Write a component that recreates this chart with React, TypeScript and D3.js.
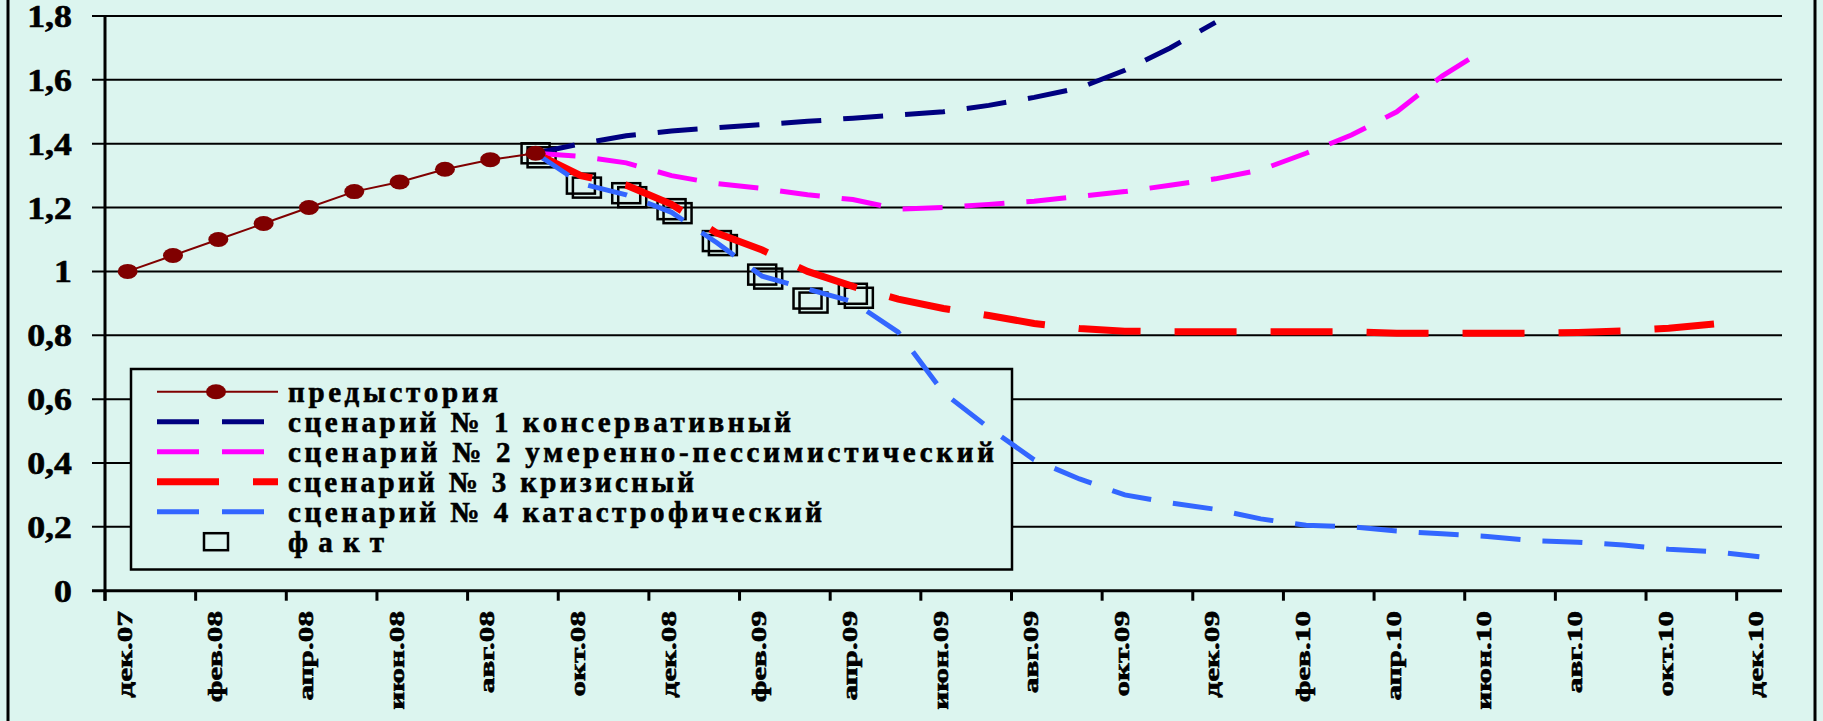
import * as d3 from 'd3';

// monthly categories, Dec 2007 - Dec 2010
const months = [
  'дек.07', 'янв.08', 'фев.08', 'мар.08', 'апр.08', 'май.08', 'июн.08', 'июл.08', 'авг.08', 'сен.08',
  'окт.08', 'ноя.08', 'дек.08', 'янв.09', 'фев.09', 'мар.09', 'апр.09', 'май.09', 'июн.09', 'июл.09',
  'авг.09', 'сен.09', 'окт.09', 'ноя.09', 'дек.09', 'янв.10', 'фев.10', 'мар.10', 'апр.10', 'май.10',
  'июн.10', 'июл.10', 'авг.10', 'сен.10', 'окт.10', 'ноя.10', 'дек.10'
];

const yTicks = [0, 0.2, 0.4, 0.6, 0.8, 1, 1.2, 1.4, 1.6, 1.8];

// history starts at дек.07, forecasts and facts start at сен.08
const forecastStart = 'сен.08';

const history = [1.0, 1.05, 1.1, 1.15, 1.2, 1.25, 1.28, 1.32, 1.35, 1.37];

const scenario1 = [1.37, 1.4, 1.425, 1.44, 1.45, 1.46, 1.47, 1.48, 1.49, 1.5, 1.52, 1.545, 1.575, 1.63, 1.7, 1.78];

const scenario2 = [1.37, 1.36, 1.34, 1.3, 1.275, 1.26, 1.24, 1.225, 1.195, 1.2, 1.21, 1.22, 1.235, 1.25, 1.27, 1.29,
  1.318, 1.37, 1.427, 1.5, 1.612, 1.7];

const scenario3 = [1.37, 1.3, 1.27, 1.21, 1.12, 1.067, 1.0, 0.953, 0.913, 0.884, 0.862, 0.837, 0.821, 0.813, 0.811,
  0.811, 0.811, 0.811, 0.811, 0.806, 0.806, 0.806, 0.806, 0.809, 0.814, 0.822, 0.835];

const scenario4 = [1.37, 1.275, 1.24, 1.185, 1.09, 0.985, 0.945, 0.905, 0.81, 0.62, 0.51, 0.41, 0.35, 0.3, 0.275,
  0.255, 0.225, 0.205, 0.2, 0.187, 0.178, 0.17, 0.157, 0.152, 0.143, 0.13, 0.122, 0.106];

const facts = [1.37, 1.275, 1.245, 1.195, 1.095, 0.99, 0.915, 0.93];

const legendLabels = [
  'предыстория',
  'сценарий № 1 консервативный',
  'сценарий № 2 умеренно-пессимистический',
  'сценарий № 3 кризисный',
  'сценарий № 4 катастрофический',
  'факт'
];

const BG = '#dcf5ef';
const FONT = '"Liberation Serif", "Times New Roman", serif';

export default function App() {
  const width = 1823;
  const height = 721;
  const plotLeft = 105;
  const plotRight = 1782;

  const x = d3.scaleBand<string>().domain(months).range([plotLeft, plotRight]).padding(0);
  const y = d3.scaleLinear().domain([0, 1.8]).range([590.7, 16]);
  const cx = (m: string) => (x(m) ?? 0) + x.bandwidth() / 2;

  const startIdx = months.indexOf(forecastStart);
  const toPoints = (vals: number[], from: number) =>
    vals.map((v, k) => [cx(months[from + k]), y(v)] as [number, number]);

  const line = d3.line();

  const scenarios = [
    { data: scenario1, color: '#000080', width: 5, dash: '40,22' },
    { data: scenario2, color: '#ff00ff', width: 5, dash: '40,22' },
    { data: scenario3, color: '#ff0000', width: 7, dash: '62,34' },
    { data: scenario4, color: '#3366ff', width: 5, dash: '40,22' }
  ];

  const historyPts = toPoints(history, 0);
  const factPts = toPoints(facts, startIdx);

  // legend geometry
  const lg = { x0: 131, y0: 369, x1: 1012, y1: 569.5 };
  const legendEnds = [498, 791, 994, 694, 822, 384];
  const textX = 288;
  const rowBase = (k: number) => 401.7 + 30 * k;

  // heavier text, like the bold Times of the original
  const textStyle = { fontFamily: FONT, fontWeight: 'bold' as const, fill: '#000', stroke: '#000', strokeWidth: 0.6 };

  return (
    <div>
      <style>{'body{margin:0}'}</style>
      <svg width={width} height={height} style={{ display: 'block', background: BG }}>
        <rect x={0} y={0} width={width} height={height} fill={BG} />
        {/* outer frame sides */}
        <line x1={8} x2={8} y1={0} y2={height} stroke="#000" strokeWidth={3} />
        <line x1={1815} x2={1815} y1={0} y2={height} stroke="#000" strokeWidth={3} />

        {/* gridlines and y ticks */}
        {yTicks.map(t => (
          <g key={t}>
            <line x1={92} x2={plotRight} y1={y(t)} y2={y(t)}
              stroke="#000" strokeWidth={t === 0 ? 3 : 2} />
            <text
              transform={`translate(72,${y(t) + 11}) scale(1.12,1)`}
              textAnchor="end"
              fontSize={32}
              style={textStyle}
            >
              {String(t).replace('.', ',')}
            </text>
          </g>
        ))}
        {/* y axis */}
        <line x1={plotLeft} x2={plotLeft} y1={y(1.8)} y2={y(0) + 10} stroke="#000" strokeWidth={3} />

        {/* x ticks and labels */}
        {months.map((m, i) => i % 2 === 0 ? (
          <g key={m}>
            <line x1={x(m)} x2={x(m)} y1={y(0)} y2={y(0) + 10} stroke="#000" strokeWidth={3} />
            <text
              transform={`translate(${cx(m) + 4},611) rotate(-90) scale(1.42,1)`}
              textAnchor="end"
              fontSize={22}
              style={textStyle}
            >
              {m}
            </text>
          </g>
        ) : null)}

        {/* legend box (hides gridlines behind it) */}
        <rect x={lg.x0} y={lg.y0} width={lg.x1 - lg.x0} height={lg.y1 - lg.y0}
          fill={BG} stroke="#000" strokeWidth={2.5} />
        {legendLabels.map((label, k) => {
          const by = rowBase(k);
          const ly = by - 10;
          let sym = null;
          if (k === 0) {
            sym = (
              <g>
                <line x1={157} x2={278} y1={ly} y2={ly} stroke="#800000" strokeWidth={2} />
                <ellipse cx={216} cy={ly} rx={10} ry={7.5} fill="#800000" />
              </g>
            );
          } else if (k <= 4) {
            const s = scenarios[k - 1];
            sym = (
              <line x1={157} x2={278} y1={ly} y2={ly} stroke={s.color} strokeWidth={s.width}
                strokeDasharray={k === 3 ? '62,34' : '42,23'} />
            );
          } else {
            sym = <rect x={204} y={ly - 8.5} width={24} height={17} fill="none" stroke="#000" strokeWidth={2.5} />;
          }
          return (
            <g key={label}>
              {sym}
              <text x={textX} y={by} fontSize={29} style={textStyle}
                textLength={legendEnds[k] - textX} lengthAdjust="spacing">
                {label}
              </text>
            </g>
          );
        })}

        {/* fact markers: doubled squares */}
        {factPts.map(([px, py], i) => (
          <g key={i} fill="none" stroke="#000" strokeWidth={2.5}>
            <rect x={px - 14 + 6} y={py - 10 + 4} width={28} height={20} />
            <rect x={px - 14} y={py - 10} width={28} height={20} />
          </g>
        ))}

        {/* forecast scenarios */}
        {scenarios.map((s, k) => (
          <path key={k} d={line(toPoints(s.data, startIdx)) ?? ''} fill="none" stroke={s.color}
            strokeWidth={s.width} strokeDasharray={s.dash} />
        ))}

        {/* history */}
        <path d={line(historyPts) ?? ''} fill="none" stroke="#800000" strokeWidth={2} />
        {historyPts.map(([px, py], i) => (
          <ellipse key={i} cx={px} cy={py} rx={10} ry={7.5} fill="#800000" />
        ))}
      </svg>
    </div>
  );
}
